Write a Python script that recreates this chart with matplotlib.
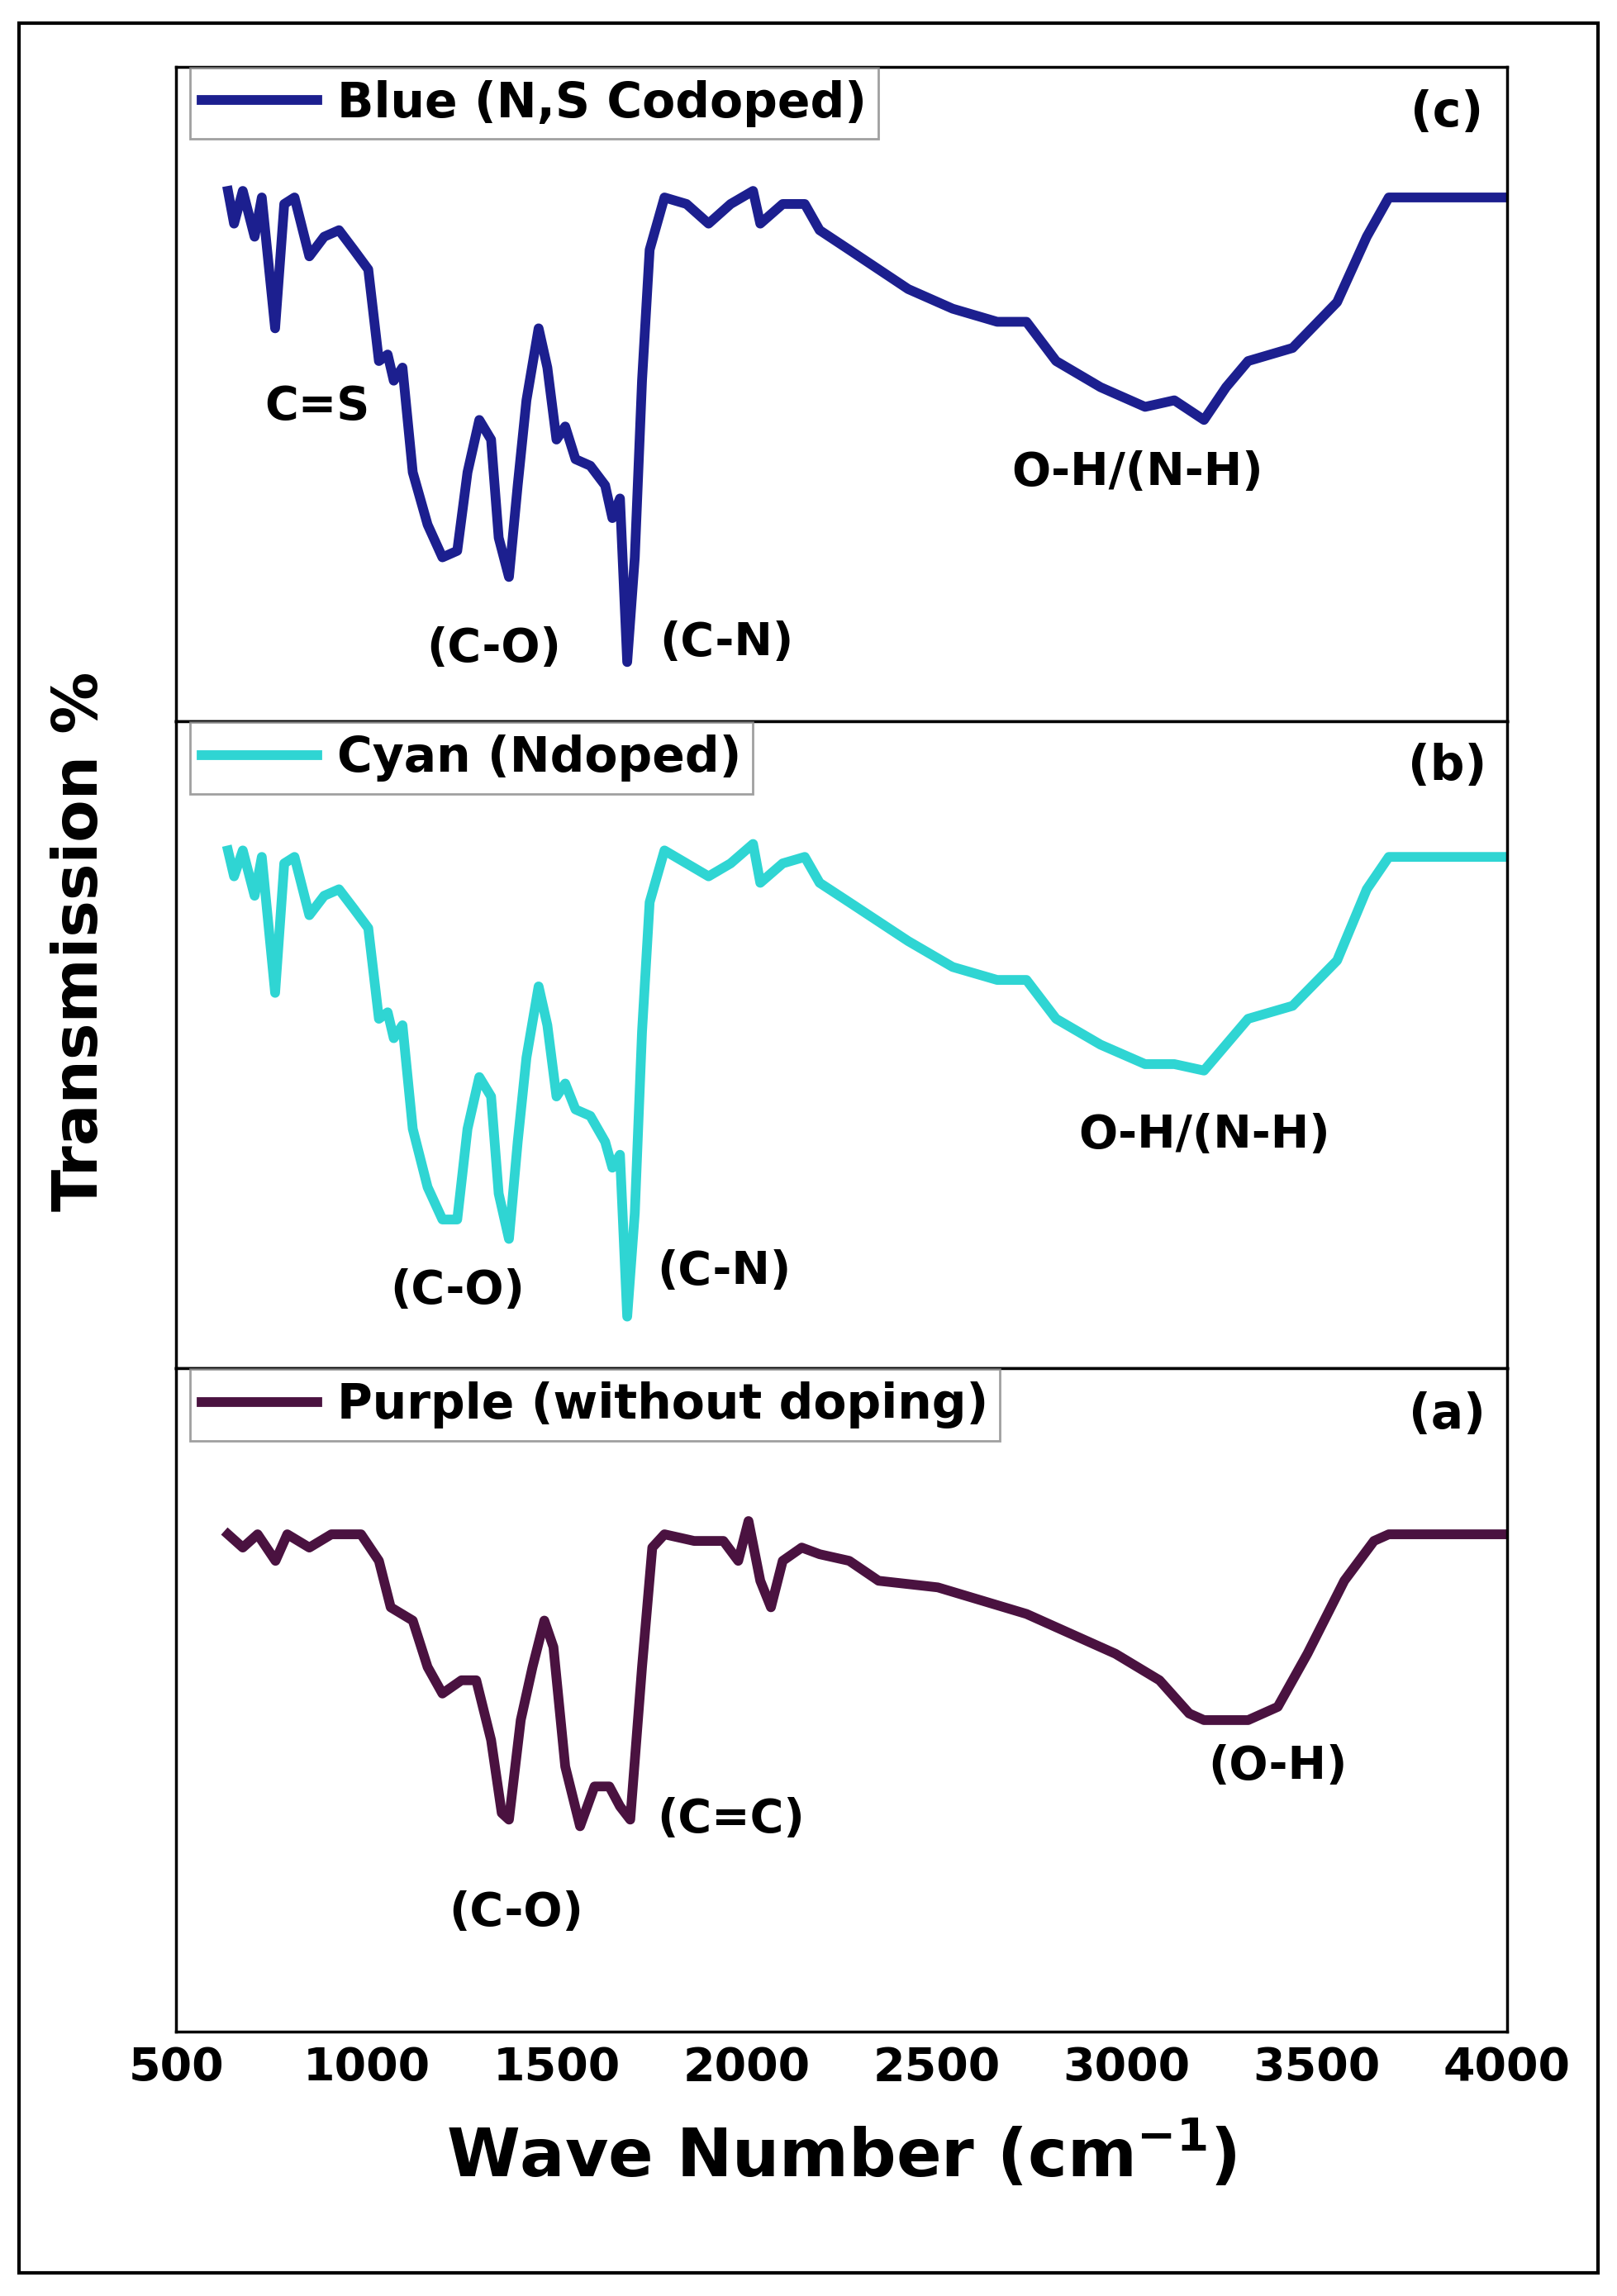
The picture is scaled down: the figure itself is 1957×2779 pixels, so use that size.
import matplotlib.pyplot as plt
from matplotlib.patches import Rectangle

# FTIR spectra (wave number cm-1, relative transmission %)
wn_c = [636, 652, 675, 706, 725, 760, 784, 811, 850, 889, 928, 967, 1005, 1033, 1056, 1072, 1095,
        1122, 1161, 1200, 1239, 1266, 1297, 1328, 1348, 1375, 1398, 1421, 1453, 1476, 1500, 1523,
        1550, 1589, 1628, 1647, 1667, 1686, 1706, 1725, 1745, 1784, 1842, 1900, 1958, 2017, 2036,
        2095, 2153, 2192, 2270, 2425, 2542, 2659, 2736, 2814, 2931, 3048, 3125, 3203, 3261, 3319,
        3436, 3553, 3631, 3689, 4000]
tr_c = [81, 76, 81, 74, 80, 60, 79, 80, 71, 74, 75, 72, 69, 55, 56, 52, 54,
        38, 30, 25, 26, 38, 46, 43, 28, 22, 36, 49, 60, 54, 43, 45,
        40, 39, 36, 31, 34, 9, 25, 52, 72, 80, 79, 76, 79, 81, 76,
        79, 79, 75, 72, 66, 63, 61, 61, 55, 51, 48, 49, 46, 51, 55,
        57, 64, 74, 80, 80]

wn_b = [636, 652, 675, 706, 725, 760, 784, 811, 850, 889, 928, 967, 1005, 1033, 1056, 1072, 1095,
        1122, 1161, 1200, 1239, 1266, 1297, 1328, 1348, 1375, 1398, 1421, 1453, 1476, 1500, 1523,
        1550, 1589, 1628, 1647, 1667, 1686, 1706, 1725, 1745, 1784, 1842, 1900, 1958, 2017, 2036,
        2095, 2153, 2192, 2270, 2425, 2542, 2659, 2736, 2814, 2931, 3048, 3125, 3203, 3261, 3319,
        3436, 3553, 3631, 3689, 4000]
tr_b = [80, 76, 80, 73, 79, 58, 78, 79, 70, 73, 74, 71, 68, 54, 55, 51, 53,
        37, 28, 23, 23, 37, 45, 42, 27, 20, 35, 48, 59, 53, 42, 44,
        40, 39, 35, 31, 33, 8, 24, 52, 72, 80, 78, 76, 78, 81, 75,
        78, 79, 75, 72, 66, 62, 60, 60, 54, 50, 47, 47, 46, 50, 54,
        56, 63, 74, 79, 79]

wn_a = [636, 675, 714, 761, 792, 850, 908, 986, 1033, 1064, 1122, 1161, 1200, 1250, 1289, 1328,
        1356, 1375, 1406, 1437, 1468, 1492, 1523, 1562, 1600, 1639, 1667, 1694, 1725, 1752, 1784,
        1862, 1939, 1978, 2005, 2036, 2064, 2095, 2145, 2192, 2270, 2347, 2503, 2736, 2970, 3086,
        3164, 3203, 3319, 3397, 3475, 3572, 3650, 3689, 4000]
tr_a = [75, 73, 75, 71, 75, 73, 75, 75, 71, 64, 62, 55, 51, 53, 53, 44,
        33, 32, 47, 55, 62, 58, 40, 31, 37, 37, 34, 32, 55, 73, 75,
        74, 74, 71, 77, 68, 64, 71, 73, 72, 71, 68, 67, 63, 57, 53,
        48, 47, 47, 49, 57, 68, 74, 75, 75]

names = ["Blue (N,S Codoped)", "Cyan (Ndoped)", "Purple (without doping)"]
letters = ["(c)", "(b)", "(a)"]
colors = ["#1c1f8f", "#2fd5d3", "#4a1240"]
notes = [
    [("C=S", 870, 48), ("(C-O)", 1336, 11), ("(C-N)", 1947, 12), ("O-H/(N-H)", 3028, 38)],
    [("(C-O)", 1239, 12), ("(C-N)", 1940, 15), ("O-H/(N-H)", 3203, 36)],
    [("(C-O)", 1395, 18), ("(C=C)", 1958, 32), ("(O-H)", 3397, 40)],
]
series = [(wn_c, tr_c), (wn_b, tr_b), (wn_a, tr_a)]

plt.rcParams["font.family"] = "DejaVu Sans"
plt.rcParams["font.weight"] = "bold"

fig = plt.figure(figsize=(19.57, 27.79), dpi=100)
fig.patches.append(Rectangle((0.012, 0.01), 0.976, 0.98, transform=fig.transFigure,
                             fill=False, lw=3, ec="black"))

left, right = 0.109, 0.932
edges = [0.971, 0.686, 0.404, 0.115]
for i in range(3):
    ax = fig.add_axes([left, edges[i + 1], right - left, edges[i] - edges[i + 1]])
    x, y = series[i]
    ax.plot(x, y, color=colors[i], lw=8.5, label=names[i], solid_joinstyle="round")
    ax.set_xlim(500, 4000)
    ax.set_ylim(0, 100)
    ax.set_yticks([])
    for s in ax.spines.values():
        s.set_linewidth(2.5)
    leg = ax.legend(loc="upper left", bbox_to_anchor=(-0.008, 1.035), frameon=True,
                    fancybox=False, handlelength=2.4, borderpad=0.25, handletextpad=0.4,
                    prop={"weight": "bold", "size": 42})
    leg.get_frame().set_edgecolor("#888888")
    leg.get_frame().set_linewidth(2)
    ax.text(0.955, 0.93, letters[i], transform=ax.transAxes, ha="center", va="center",
            fontsize=42, fontweight="bold")
    for txt, nx, ny in notes[i]:
        ax.text(nx, ny, txt, ha="center", va="center", fontsize=40, fontweight="bold")
    if i < 2:
        ax.set_xticks([])
    else:
        ax.set_xticks(range(500, 4001, 500))
        ax.tick_params(axis="x", labelsize=40, direction="in", length=0, pad=12)
        for lab in ax.get_xticklabels():
            lab.set_fontweight("bold")
        ax.set_xlabel("Wave Number (cm$^{\\mathbf{-1}}$)", fontsize=58, fontweight="bold",
                      labelpad=25)

fig.text(0.05, 0.59, "Transmission %", rotation=90, ha="center", va="center",
         fontsize=54, fontweight="bold")

fig.savefig("out.png", dpi=100)
